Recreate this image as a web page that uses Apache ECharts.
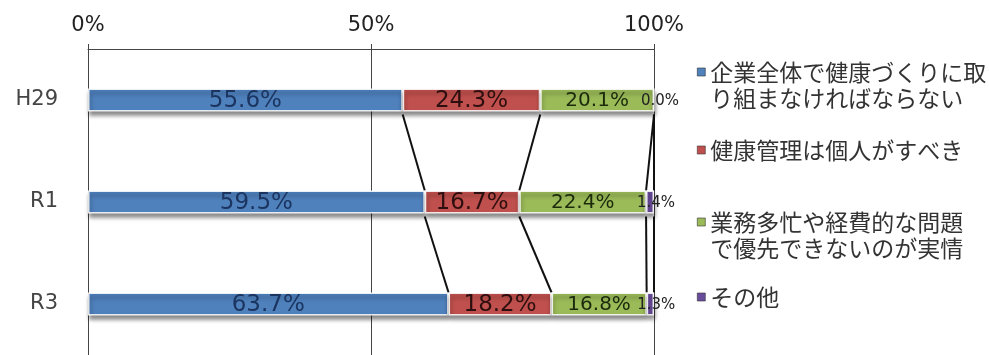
<!DOCTYPE html>
<html>
<head>
<meta charset="utf-8">
<title>健康づくりに対する考え方</title>
<script src="https://cdn.jsdelivr.net/npm/echarts@6/dist/echarts.min.js"></script>
<style>
  html, body { margin: 0; padding: 0; background: #fff; }
  #chart { width: 989px; height: 355px; }
</style>
</head>
<body>
<div id="chart"></div>
<script>
// 年度
const years = ["H29", "R1", "R3"];
// 回答（凡例の改行位置は元の図に合わせる）
const answers = [
  "企業全体で健康づくりに取\nり組まなければならない",
  "健康管理は個人がすべき",
  "業務多忙や経費的な問題\nで優先できないのが実情",
  "その他",
];
// 割合（%）
const wholeCompany = [55.6, 59.5, 63.7];
const personal = [24.3, 16.7, 18.2];
const tooBusy = [20.1, 22.4, 16.8];
const other = [0.0, 1.4, 1.3];
const tickLabels = ["0%", "50%", "100%"];

const colors = ["#4f81bd", "#c0504d", "#9bbb59", "#6a4c9c"];
const labelColors = ["#1b3560", "#2e0f0f", "#1c2a0c", "#222"];
const labelSizes = [23, 23, 20, 15];
const barH = 23;

// 区分線（系列線）用：累積値
const allSeries = [wholeCompany, personal, tooBusy, other];
const cum = years.map((y, i) => {
  let s = 0;
  return allSeries.map((arr) => (s += arr[i]));
});
const linkData = [];
for (let i = 0; i < years.length - 1; i++) {
  for (let j = 0; j < allSeries.length; j++) {
    linkData.push([cum[i][j], i, cum[i + 1][j], i + 1]);
  }
}

const myChart = echarts.init(document.getElementById("chart"));

const barSeries = allSeries.map((arr, k) => ({
  name: answers[k],
  type: "bar",
  stack: "total",
  barWidth: barH,
  data: arr,
  itemStyle: {
    color: colors[k],
    borderColor: "rgba(255,255,255,0.85)",
    borderWidth: 1.5,
    shadowColor: "rgba(0,0,0,0.45)",
    shadowBlur: 4,
    shadowOffsetX: 1,
    shadowOffsetY: 4,
  },
  label: {
    show: true,
    position: "inside",
    offset: k === 3 ? [6, 1] : [0, 1],
    fontFamily: "DejaVu Sans",
    fontSize: labelSizes[k],
    color: labelColors[k],
    formatter: (p) => p.value.toFixed(1) + "%",
  },
  z: 3,
}));

// 凡例は項目ごとに位置を指定（2行の項目は先頭行にマーカーを合わせる）
const legendLine = 26;
const legendCenters = [72, 150, 222, 297];
const legends = answers.map((name, k) => {
  const twoLines = name.indexOf("\n") >= 0;
  return {
    data: [name],
    orient: "vertical",
    left: 697,
    top: legendCenters[k] - (twoLines ? 1.5 : 0.5) * legendLine,
    padding: 0,
    icon: "rect",
    itemWidth: 8,
    itemHeight: 8,
    itemStyle: { borderColor: "#333", borderWidth: 0.6 },
    selectedMode: false,
    formatter: (n) => (n.indexOf("\n") >= 0 ? " \n" + n : n),
    textStyle: {
      fontFamily: "Noto Sans CJK JP",
      fontSize: 23,
      lineHeight: legendLine,
      color: "#333",
    },
  };
});

myChart.setOption({
  animation: false,
  legend: legends,
  grid: {
    left: 88,
    right: 335,
    top: 49,
    bottom: -6,
  },
  xAxis: {
    type: "value",
    position: "top",
    min: 0,
    max: 100,
    interval: 50,
    axisLine: { show: true, lineStyle: { color: "#444", width: 1 } },
    axisTick: { show: true, length: 5, lineStyle: { color: "#444" } },
    splitLine: { show: true, lineStyle: { color: "#444", width: 1 } },
    axisLabel: {
      fontFamily: "DejaVu Sans",
      fontSize: 21,
      color: "#222",
      margin: 13,
      formatter: (v) => tickLabels[v / 50],
    },
  },
  yAxis: {
    type: "category",
    inverse: true,
    data: years,
    axisLine: { show: true, lineStyle: { color: "#444", width: 1 } },
    axisTick: { show: false },
    axisLabel: {
      fontFamily: "DejaVu Sans",
      fontSize: 21,
      color: "#444",
      margin: 30,
    },
  },
  series: barSeries.concat([
    {
      // 系列線
      type: "custom",
      data: linkData,
      encode: { x: [0, 2], y: [1, 3] },
      silent: true,
      z: 2,
      renderItem: function (params, api) {
        const p1 = api.coord([api.value(0), api.value(1)]);
        const p2 = api.coord([api.value(2), api.value(3)]);
        return {
          type: "line",
          shape: {
            x1: p1[0],
            y1: p1[1] + barH / 2 + 3,
            x2: p2[0],
            y2: p2[1] - barH / 2,
          },
          style: { stroke: "#111", lineWidth: 2 },
        };
      },
    },
  ]),
});
</script>
</body>
</html>
